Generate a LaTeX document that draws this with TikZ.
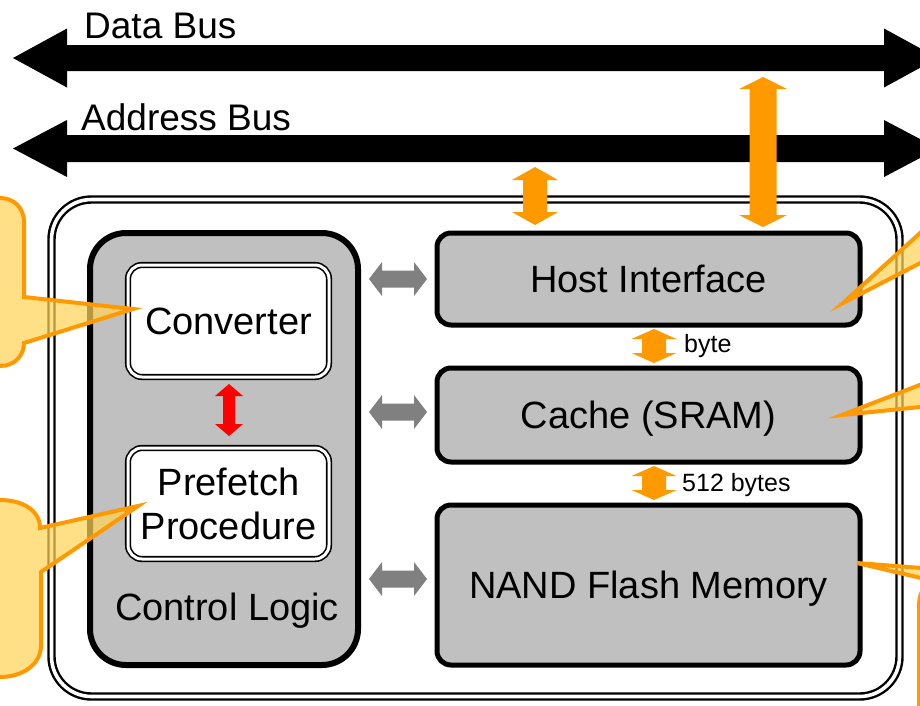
\documentclass[tikz,border=0pt]{standalone}
\usepackage{fontspec}
\setmainfont{Liberation Sans}

\definecolor{boxgray}{RGB}{192,192,192}
\definecolor{arrgray}{RGB}{128,128,128}
\definecolor{flashorange}{RGB}{255,153,0}
\definecolor{noteyellow}{RGB}{255,212,88}
\definecolor{linkred}{RGB}{255,0,0}

\newcommand\boxfont{\fontsize{38}{44}\selectfont}
\newcommand\smallfont{\fontsize{25}{30}\selectfont}

% two-headed vertical block arrow: centre x, top tip y, bottom tip y,
% half shaft width, half head width, head length
\newcommand\vblock[6]{%
  (#1,#2) -- (#1+#5,#2+#6) -- (#1+#4,#2+#6) -- (#1+#4,#3-#6) -- (#1+#5,#3-#6)
  -- (#1,#3) -- (#1-#5,#3-#6) -- (#1-#4,#3-#6) -- (#1-#4,#2+#6) -- (#1-#5,#2+#6) -- cycle}
% two-headed horizontal block arrow: left tip x, right tip x, centre y,
% half shaft height, half head height, head length
\newcommand\hblock[6]{%
  (#1,#3) -- (#1+#6,#3-#5) -- (#1+#6,#3-#4) -- (#2-#6,#3-#4) -- (#2-#6,#3-#5)
  -- (#2,#3) -- (#2-#6,#3+#5) -- (#2-#6,#3+#4) -- (#1+#6,#3+#4) -- (#1+#6,#3+#5) -- cycle}

\tikzset{
  captext/.style={text height=27pt, text depth=0pt},
  unitbox/.style={draw=black, line width=5pt, fill=boxgray, rounded corners=14pt,
    inner sep=0pt, font=\boxfont, align=center, captext},
  logicbox/.style={draw=black, line width=6pt, fill=boxgray, rounded corners=36pt,
    inner sep=0pt},
  stagebox/.style={draw=black, double=white, line width=1.6pt, double distance=3pt,
    fill=white, rounded corners=14pt, inner sep=0pt, font=\boxfont, align=center},
  framebox/.style={draw=black, double=white, line width=2.4pt, double distance=3.6pt,
    rounded corners=40pt, inner sep=0pt},
  buslabel/.style={anchor=base west, inner sep=0pt, font=\fontsize{37}{40}\selectfont},
  widthlabel/.style={anchor=west, inner sep=0pt, font=\smallfont},
  note/.style={draw=flashorange, line width=4pt, fill=noteyellow, fill opacity=0.72,
    line join=miter},
}

\begin{document}
\begin{tikzpicture}[x=1pt, y=-1pt]
\useasboundingbox (0,0) rectangle (920,705);
\clip (0,0) rectangle (920,705);

% outer device frame
\node[framebox, minimum width=848pt, minimum height=497pt] (frame) at (475.5,448) {};

% system buses
\fill[black] \hblock{13}{938}{58}{13}{29.5}{54};
\fill[black] \hblock{13}{938}{148.5}{13.5}{28.5}{54};
\node[buslabel] (databus) at (84,38) {Data Bus};
\node[buslabel] (addrbus) at (81,130) {Address Bus};

% control logic with its two stages
\node[logicbox, minimum width=268pt, minimum height=432pt] (ctrl) at (224,449) {};
\node[stagebox, captext, minimum width=201pt, minimum height=112pt] (conv) at (228.5,321) {Converter};
\node[stagebox, minimum width=201pt, minimum height=111pt] (pref) at (228.5,503.5) {Prefetch\\Procedure};
\node[inner sep=0pt, font=\boxfont, captext] (ctrllabel) at (227,607) {Control Logic};

% storage path
\node[unitbox, minimum width=423pt, minimum height=92pt] (host) at (648.5,279) {Host Interface};
\node[unitbox, minimum width=423pt, minimum height=94pt] (cache) at (648.5,415) {Cache (SRAM)};
\node[unitbox, minimum width=423pt, minimum height=160pt] (nand) at (648.5,585) {NAND Flash Memory};

% control links
\fill[arrgray] \hblock{369}{427}{279}{8.5}{17}{13};
\fill[arrgray] \hblock{369}{427}{412}{8.5}{17}{13};
\fill[arrgray] \hblock{369}{427}{579}{8.5}{17}{13};

% data links
\fill[flashorange] \vblock{763}{77}{227}{13.5}{24}{12};
\fill[flashorange] \vblock{535}{167}{225}{12}{23}{13};
\fill[flashorange] \vblock{654}{329}{363}{12}{22.5}{10};
\fill[flashorange] \vblock{654}{466}{500}{12}{22.5}{10};
\node[widthlabel] (bytelbl) at (684,346) {byte};
\node[widthlabel] (blocklbl) at (682,485) {512 bytes};

% converter <-> prefetch
\fill[linkred] \vblock{229}{384}{436}{6}{14}{12};

% callouts
\draw[note] (-80,198) -- (0,198) .. controls (14,198) and (24,208) .. (24,222)
  -- (24,297) -- (133,309) -- (24,343) .. controls (24,356) and (14,366) .. (0,366)
  -- (-80,366) -- cycle;
\draw[note] (-80,500) -- (0,500) .. controls (22,500) and (40,510) .. (40,528)
  -- (138,506) -- (41,572) -- (41,645) .. controls (41,665) and (22,677) .. (0,677)
  -- (-80,677) -- cycle;
\draw[note] (843,303) -- (930,224) -- (1000,224) -- (1000,258) -- (930,258) -- cycle;
\draw[note] (842,415) -- (930,381) -- (1000,381) -- (1000,406) -- (930,406) -- cycle;
\draw[note] (857,563) -- (960,571) -- (1000,571) -- (1000,720) -- (919,720)
  -- (919,606) .. controls (919,592) and (925,584) .. (934,581) -- cycle;
\end{tikzpicture}
\end{document}
